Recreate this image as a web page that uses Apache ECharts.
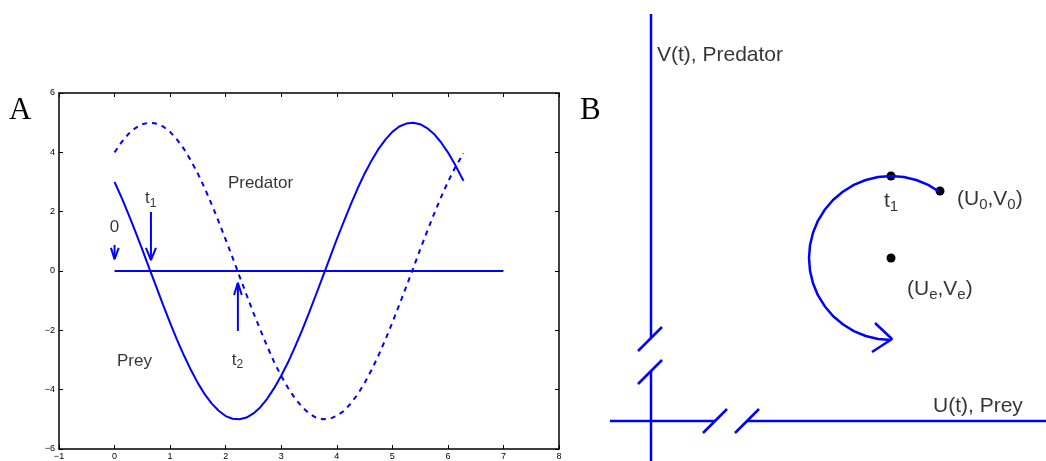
<!DOCTYPE html>
<html>
<head>
<meta charset="utf-8">
<script src="https://cdn.jsdelivr.net/npm/echarts@6/dist/echarts.min.js"></script>
<style>
  html, body { margin: 0; padding: 0; background: #fff; }
  #main { width: 1046px; height: 461px; }
</style>
</head>
<body>
<div id="main"></div>
<script>
// --- panel A: prey / predator against time ---
const timeValues = [0, 0.125, 0.25, 0.375, 0.5, 0.625, 0.75, 0.875, 1, 1.125, 1.25, 1.375,
  1.5, 1.625, 1.75, 1.875, 2, 2.125, 2.25, 2.375, 2.5, 2.625, 2.75, 2.875, 3, 3.125, 3.25,
  3.375, 3.5, 3.625, 3.75, 3.875, 4, 4.125, 4.25, 4.375, 4.5, 4.625, 4.75, 4.875, 5, 5.125,
  5.25, 5.375, 5.5, 5.625, 5.75, 5.875, 6, 6.125, 6.28]
const preyValues = [3.0, 2.48, 1.92, 1.33, 0.72, 0.09, -0.53, -1.15, -1.75, -2.32, -2.85,
  -3.34, -3.78, -4.16, -4.47, -4.71, -4.89, -4.98, -5.0, -4.94, -4.8, -4.59, -4.3, -3.94,
  -3.53, -3.07, -2.55, -2.0, -1.41, -0.8, -0.18, 0.44, 1.07, 1.66, 2.24, 2.78, 3.28, 3.72,
  4.11, 4.43, 4.69, 4.87, 4.97, 5.0, 4.95, 4.82, 4.62, 4.34, 4.0, 3.6, 3.04]
const predatorValues = [4.0, 4.34, 4.62, 4.82, 4.95, 5.0, 4.97, 4.87, 4.69, 4.43, 4.11,
  3.72, 3.28, 2.78, 2.24, 1.66, 1.06, 0.45, -0.18, -0.8, -1.41, -1.99, -2.55, -3.08, -3.54,
  -3.95, -4.3, -4.58, -4.8, -4.94, -5.0, -4.98, -4.88, -4.72, -4.47, -4.16, -3.78, -3.34,
  -2.85, -2.31, -1.74, -1.14, -0.53, 0.09, 0.72, 1.33, 1.92, 2.48, 3.0, 3.47, 3.97]
const baseline = [[0, 0], [7, 0]]
const xTickValues = [-1, 0, 1, 2, 3, 4, 5, 6, 7, 8]
const yTickValues = [-6, -4, -2, 0, 2, 4, 6]

// arrows marking 0, t1, t2 (shaft + open head)
const arrowsA = [
  { shaft: [[0, 0.88], [0, 0.40]], head: [[-0.065, 0.78], [0, 0.40], [0.075, 0.78]] },
  { shaft: [[0.655, 1.99], [0.655, 0.37]], head: [[0.565, 0.78], [0.655, 0.37], [0.745, 0.78]] },
  { shaft: [[2.22, -2.02], [2.22, -0.40]], head: [[2.15, -0.81], [2.22, -0.40], [2.29, -0.81]] }
]
const notesA = [
  { pos: [0.0, 1.48], text: '0', align: 'center' },
  { pos: [0.547, 2.45], text: '{m|t}{s|1}', align: 'left' },
  { pos: [2.04, 2.97], text: 'Predator', align: 'left' },
  { pos: [0.043, -3.03], text: 'Prey', align: 'left' },
  { pos: [2.11, -3.0], text: '{m|t}{s|2}', align: 'left' }
]

// --- panel B: phase plane sketch ---
const axisSegmentsB = [
  [[0, 40.7], [0, 8.3]],
  [[-1.3, 7.0], [1.1, 9.4]],
  [[-1.3, 3.7], [1.1, 6.1]],
  [[0, 5.0], [0, -4]],
  [[-4.1, 0], [6.4, 0]],
  [[5.2, -1.2], [7.6, 1.2]],
  [[8.4, -1.2], [10.8, 1.2]],
  [[9.6, 0], [39.5, 0]]
]
const orbitPoints = [[28.82, 22.93], [27.72, 23.61], [26.53, 24.1], [25.28, 24.4], [24, 24.5],
  [22.72, 24.4], [21.47, 24.1], [20.28, 23.61], [19.18, 22.93], [18.2, 22.1], [17.37, 21.12],
  [16.69, 20.02], [16.2, 18.83], [15.9, 17.58], [15.8, 16.3], [15.9, 15.02], [16.2, 13.77],
  [16.69, 12.58], [17.37, 11.48], [18.2, 10.5], [19.18, 9.67], [20.28, 8.99], [21.47, 8.5],
  [22.72, 8.2], [24, 8.1]]
const orbitArrowHead = [[22.4, 9.8], [24.1, 8.2], [22.1, 6.9]]
const markedPoints = [[28.9, 23.0], [24, 24.5], [24, 16.3]]
const notesB = [
  { pos: [0.6, 36.6], text: 'V(t), Predator' },
  { pos: [28.2, 1.5], text: 'U(t), Prey' },
  { pos: [30.6, 22.2], text: '{m|(U}{s|0}{m|,V}{s|0}{m|)}' },
  { pos: [25.6, 13.2], text: '{m|(U}{s|e}{m|,V}{s|e}{m|)}' },
  { pos: [23.3, 22.0], text: '{m|t}{s|1}' }
]

const blue = '#0000ff'
const font = 'Liberation Sans, Arial, sans-serif'
const minus = v => (v < 0 ? '\u2212' + (-v) : String(v))

let myChart = echarts.init(document.getElementById('main'), null, { renderer: 'canvas' })

const lineA = (data, extra) => Object.assign({
  type: 'line', xAxisIndex: 0, yAxisIndex: 0, data: data, symbol: 'none',
  lineStyle: { color: blue, width: 2 }, animation: false, silent: true
}, extra || {})

const lineB = (data, extra) => Object.assign({
  type: 'line', xAxisIndex: 2, yAxisIndex: 2, data: data, symbol: 'none', clip: false,
  lineStyle: { color: blue, width: 2.5 }, animation: false, silent: true
}, extra || {})

let series = []
series.push(lineA(timeValues.map((t, i) => [t, preyValues[i]])))
series.push(lineA(timeValues.map((t, i) => [t, predatorValues[i]]), {
  lineStyle: { color: blue, width: 2, type: [5, 5] }
}))
series.push(lineA(baseline))
arrowsA.forEach(a => {
  series.push(lineA(a.shaft))
  series.push(lineA(a.head))
})
series.push({
  type: 'scatter', xAxisIndex: 0, yAxisIndex: 0, symbolSize: 0, silent: true, animation: false,
  data: notesA.map(n => ({
    value: n.pos,
    label: {
      show: true, formatter: n.text, position: n.align === 'left' ? 'right' : 'inside',
      distance: 0, color: '#000', fontFamily: font, fontSize: 17,
      rich: { m: { fontSize: 17, fontFamily: font, color: '#000' },
        s: { fontSize: 12, fontFamily: font, color: '#000', padding: [10, 0, 0, 0] } }
    }
  }))
})

axisSegmentsB.forEach(seg => series.push(lineB(seg)))
series.push(lineB(orbitPoints))
series.push(lineB(orbitArrowHead))
series.push({
  type: 'scatter', xAxisIndex: 2, yAxisIndex: 2, symbolSize: 9, silent: true, animation: false,
  itemStyle: { color: '#000', opacity: 1 }, data: markedPoints
})
series.push({
  type: 'scatter', xAxisIndex: 2, yAxisIndex: 2, symbolSize: 0, silent: true, animation: false,
  data: notesB.map(n => ({
    value: n.pos,
    label: {
      show: true, formatter: n.text, position: 'right', distance: 0,
      color: '#000', fontFamily: font, fontSize: 21,
      rich: { m: { fontSize: 21, fontFamily: font, color: '#000' },
        s: { fontSize: 15, fontFamily: font, color: '#000', padding: [12, 0, 0, 0] } }
    }
  }))
})

const boxAxis = {
  axisLine: { show: true, onZero: false, lineStyle: { color: '#000', width: 1.5 } },
  axisTick: { show: true, inside: true, length: 4, lineStyle: { color: '#000', width: 1 } },
  splitLine: { show: false }
}

myChart.setOption({
  animation: false,
  grid: [
    { left: 59, top: 93, width: 500, height: 356 },
    { left: 600, top: 0, width: 446, height: 461 }
  ],
  xAxis: [
    Object.assign({
      type: 'value', gridIndex: 0, min: -1, max: 8, interval: 1,
      axisLabel: { color: '#000', fontSize: 9, margin: 3, fontFamily: font, formatter: minus,
        customValues: xTickValues }
    }, boxAxis),
    Object.assign({
      type: 'value', gridIndex: 0, position: 'top', min: -1, max: 8, interval: 1,
      axisLabel: { show: false }
    }, boxAxis),
    { type: 'value', gridIndex: 1, min: -5.1, max: 39.5, show: false }
  ],
  yAxis: [
    Object.assign({
      type: 'value', gridIndex: 0, min: -6, max: 6, interval: 2,
      axisLabel: { color: '#000', fontSize: 9, margin: 4, fontFamily: font, formatter: minus,
        customValues: yTickValues }
    }, boxAxis),
    Object.assign({
      type: 'value', gridIndex: 0, position: 'right', min: -6, max: 6, interval: 2,
      axisLabel: { show: false }
    }, boxAxis),
    { type: 'value', gridIndex: 1, min: -4, max: 42.1, show: false }
  ],
  graphic: [
    { type: 'text', left: 9, top: 95, style: { text: 'A', fontSize: 31, fontFamily: 'Liberation Serif, serif', fill: '#000' } },
    { type: 'text', left: 580, top: 95, style: { text: 'B', fontSize: 31, fontFamily: 'Liberation Serif, serif', fill: '#000' } }
  ],
  series: series
})
</script>
</body>
</html>
